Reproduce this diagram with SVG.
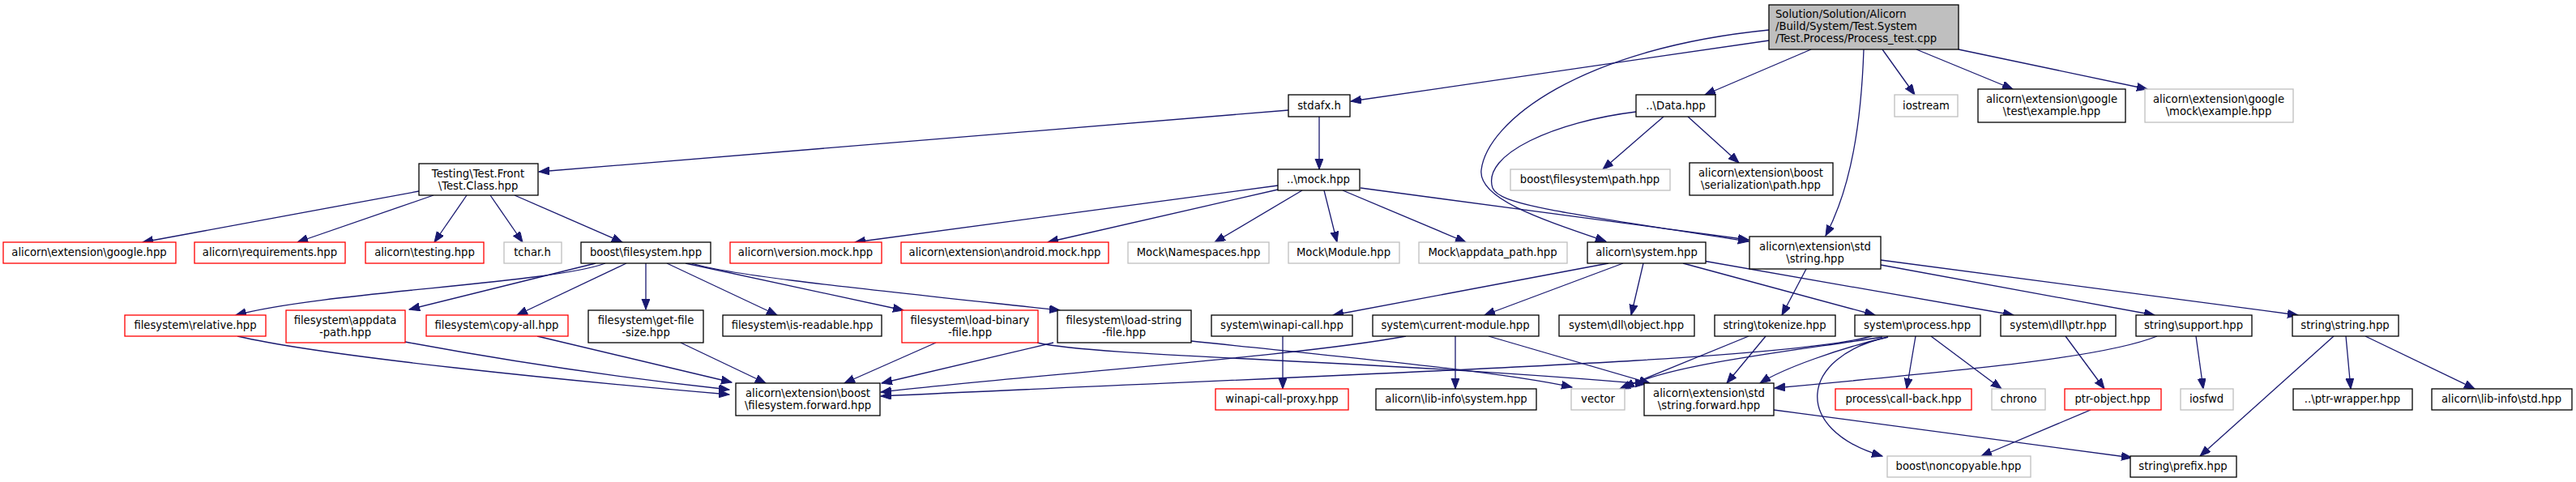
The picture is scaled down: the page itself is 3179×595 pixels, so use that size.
<svg xmlns="http://www.w3.org/2000/svg" width="3179" height="595" viewBox="0 0 3179 595">
<style>
rect{fill:#fff;stroke-width:1.3}
.k rect{stroke:#000}
.g rect{stroke:#bfbfbf}
.r rect{stroke:#ff0000}
.top rect{fill:#bfbfbf;stroke:#000}
text{font-family:"DejaVu Sans","Liberation Sans",sans-serif;font-size:13.2px;fill:#000;text-anchor:middle}
.top text{text-anchor:start}
#edges path{fill:none;stroke:#191970;stroke-width:1.3;marker-end:url(#ah)}
</style>
<defs>
<marker id="ah" markerUnits="userSpaceOnUse" markerWidth="14" markerHeight="11" refX="13" refY="5" orient="auto"><path d="M0,0 L13,5 L0,10 z" fill="#191970" stroke="#191970" stroke-width="1"/></marker>
</defs>
<rect x="0" y="0" width="3179" height="595" style="fill:#fff;stroke:none"/>
<g id="edges">
<path d="M2183,50 L1667,125"/>
<path d="M2183,37 C1950,60 1835,150 1828,210 C1824,245 1900,270 1982,298"/>
<path d="M2235,61 L2104,117"/>
<path d="M2300,61 C2297,150 2285,230 2253,291"/>
<path d="M2323,61 L2363,117"/>
<path d="M2365,61 L2484,110"/>
<path d="M2417,61 L2650,110"/>
<path d="M1590,136 L665,212"/>
<path d="M1628,144 L1628,209"/>
<path d="M2053,144 L1978,209"/>
<path d="M2083,144 L2146,201"/>
<path d="M2019,138 C1920,150 1828,190 1842,232 C1850,252 1920,262 2158,298"/>
<path d="M1679,232 L2158,296"/>
<path d="M517,236 L176,299"/>
<path d="M535,241 L367,299"/>
<path d="M576,241 L536,299"/>
<path d="M605,241 L645,299"/>
<path d="M635,241 L768,299"/>
<path d="M747,325 C680,350 400,360 291,389"/>
<path d="M735,325 L505,382"/>
<path d="M773,325 L638,389"/>
<path d="M797,325 L797,382"/>
<path d="M823,325 L959,389"/>
<path d="M846,325 L1115,383"/>
<path d="M854,325 C900,340 1050,355 1308,383"/>
<path d="M1577,229 L1055,299"/>
<path d="M1577,234 L1293,299"/>
<path d="M1607,235 L1499,299"/>
<path d="M1634,235 L1650,299"/>
<path d="M1657,235 L1809,299"/>
<path d="M293,415 C400,440 700,470 900,487"/>
<path d="M500,422 C650,450 800,470 900,481"/>
<path d="M663,415 L903,472"/>
<path d="M840,423 L945,473"/>
<path d="M1155,423 L1042,473"/>
<path d="M1300,423 L1088,473"/>
<path d="M1735,415 C1600,440 1300,460 1087,484"/>
<path d="M2310,415 C2200,445 1700,460 1087,489"/>
<path d="M1280,423 C1350,440 1700,445 2031,474"/>
<path d="M1470,421 C1650,440 1850,458 1940,478"/>
<path d="M1583,415 L1583,480"/>
<path d="M1796,415 L1796,480"/>
<path d="M1837,415 L2036,473"/>
<path d="M1985,325 L1645,389"/>
<path d="M2003,325 L1832,389"/>
<path d="M2028,325 L2013,389"/>
<path d="M2077,325 L2314,389"/>
<path d="M2102,322 L2485,389"/>
<path d="M2229,332 L2199,389"/>
<path d="M2321,327 L2659,389"/>
<path d="M2321,321 L2836,389"/>
<path d="M2158,415 L1999,480"/>
<path d="M2179,415 L2131,473"/>
<path d="M2323,416 C2200,435 2060,450 2004,479"/>
<path d="M2330,416 C2270,430 2200,455 2172,473"/>
<path d="M2662,415 C2600,440 2450,455 2190,479"/>
<path d="M2364,415 L2353,480"/>
<path d="M2383,415 L2470,480"/>
<path d="M2330,416 C2220,440 2210,530 2323,563"/>
<path d="M2189,506 L2631,565"/>
<path d="M2549,415 L2597,480"/>
<path d="M2580,506 L2445,563"/>
<path d="M2710,415 L2719,480"/>
<path d="M2880,415 L2715,563"/>
<path d="M2895,415 L2901,480"/>
<path d="M2919,415 L3054,480"/>
</g>
<g id="n_top" class="top"><rect x="2183" y="6" width="234" height="55"/><text x="2191" y="22">Solution/Solution/Alicorn</text><text x="2191" y="37">/Build/System/Test.System</text><text x="2191" y="52">/Test.Process/Process_test.cpp</text></g>
<g id="n_stdafx" class="k"><rect x="1590" y="117" width="76" height="27"/><text x="1628" y="135">stdafx.h</text></g>
<g id="n_data" class="k"><rect x="2019" y="117" width="98" height="27"/><text x="2068" y="135">..\Data.hpp</text></g>
<g id="n_iostream" class="g"><rect x="2338" y="117" width="78" height="27"/><text x="2377" y="135">iostream</text></g>
<g id="n_gtest" class="k"><rect x="2441" y="110" width="182" height="41"/><text x="2532" y="127">alicorn\extension\google</text><text x="2532" y="142">\test\example.hpp</text></g>
<g id="n_gmock" class="g"><rect x="2647" y="110" width="183" height="41"/><text x="2738" y="127">alicorn\extension\google</text><text x="2738" y="142">\mock\example.hpp</text></g>
<g id="n_testing" class="k"><rect x="517" y="202" width="147" height="39"/><text x="590" y="219">Testing\Test.Front</text><text x="590" y="234">\Test.Class.hpp</text></g>
<g id="n_mock" class="k"><rect x="1577" y="209" width="101" height="26"/><text x="1627" y="226">..\mock.hpp</text></g>
<g id="n_bfpath" class="g"><rect x="1864" y="209" width="197" height="26"/><text x="1962" y="226">boost\filesystem\path.hpp</text></g>
<g id="n_serial" class="k"><rect x="2085" y="201" width="177" height="40"/><text x="2173" y="218">alicorn\extension\boost</text><text x="2173" y="233">\serialization\path.hpp</text></g>
<g id="n_google" class="r"><rect x="4" y="299" width="213" height="26"/><text x="110" y="316">alicorn\extension\google.hpp</text></g>
<g id="n_req" class="r"><rect x="240" y="299" width="186" height="26"/><text x="333" y="316">alicorn\requirements.hpp</text></g>
<g id="n_atesting" class="r"><rect x="451" y="299" width="146" height="26"/><text x="524" y="316">alicorn\testing.hpp</text></g>
<g id="n_tchar" class="g"><rect x="622" y="299" width="71" height="26"/><text x="657" y="316">tchar.h</text></g>
<g id="n_bfs" class="k"><rect x="717" y="299" width="160" height="26"/><text x="797" y="316">boost\filesystem.hpp</text></g>
<g id="n_vmock" class="r"><rect x="901" y="299" width="187" height="26"/><text x="994" y="316">alicorn\version.mock.hpp</text></g>
<g id="n_amock" class="r"><rect x="1112" y="299" width="256" height="26"/><text x="1240" y="316">alicorn\extension\android.mock.hpp</text></g>
<g id="n_ns" class="g"><rect x="1392" y="299" width="174" height="26"/><text x="1479" y="316">Mock\Namespaces.hpp</text></g>
<g id="n_module" class="g"><rect x="1590" y="299" width="137" height="26"/><text x="1658" y="316">Mock\Module.hpp</text></g>
<g id="n_appdata" class="g"><rect x="1751" y="299" width="183" height="26"/><text x="1842" y="316">Mock\appdata_path.hpp</text></g>
<g id="n_system" class="k"><rect x="1959" y="299" width="146" height="26"/><text x="2032" y="316">alicorn\system.hpp</text></g>
<g id="n_string" class="k"><rect x="2159" y="292" width="162" height="40"/><text x="2240" y="309">alicorn\extension\std</text><text x="2240" y="324">\string.hpp</text></g>
<g id="n_relative" class="r"><rect x="154" y="389" width="174" height="26"/><text x="241" y="406">filesystem\relative.hpp</text></g>
<g id="n_appdatap" class="r"><rect x="353" y="383" width="147" height="40"/><text x="426" y="400">filesystem\appdata</text><text x="426" y="415">-path.hpp</text></g>
<g id="n_copyall" class="r"><rect x="526" y="389" width="175" height="26"/><text x="613" y="406">filesystem\copy-all.hpp</text></g>
<g id="n_getfile" class="k"><rect x="726" y="383" width="142" height="40"/><text x="797" y="400">filesystem\get-file</text><text x="797" y="415">-size.hpp</text></g>
<g id="n_isread" class="k"><rect x="892" y="389" width="196" height="26"/><text x="990" y="406">filesystem\is-readable.hpp</text></g>
<g id="n_loadbin" class="r"><rect x="1113" y="383" width="168" height="40"/><text x="1197" y="400">filesystem\load-binary</text><text x="1197" y="415">-file.hpp</text></g>
<g id="n_loadstr" class="k"><rect x="1305" y="383" width="165" height="40"/><text x="1387" y="400">filesystem\load-string</text><text x="1387" y="415">-file.hpp</text></g>
<g id="n_winapi" class="k"><rect x="1495" y="389" width="174" height="26"/><text x="1582" y="406">system\winapi-call.hpp</text></g>
<g id="n_curmod" class="k"><rect x="1694" y="389" width="205" height="26"/><text x="1796" y="406">system\current-module.hpp</text></g>
<g id="n_dllobj" class="k"><rect x="1924" y="389" width="167" height="26"/><text x="2007" y="406">system\dll\object.hpp</text></g>
<g id="n_tokenize" class="k"><rect x="2116" y="389" width="149" height="26"/><text x="2190" y="406">string\tokenize.hpp</text></g>
<g id="n_process" class="k"><rect x="2289" y="389" width="155" height="26"/><text x="2366" y="406">system\process.hpp</text></g>
<g id="n_dllptr" class="k"><rect x="2469" y="389" width="142" height="26"/><text x="2540" y="406">system\dll\ptr.hpp</text></g>
<g id="n_support" class="k"><rect x="2636" y="389" width="143" height="26"/><text x="2707" y="406">string\support.hpp</text></g>
<g id="n_sstring" class="k"><rect x="2829" y="389" width="131" height="26"/><text x="2894" y="406">string\string.hpp</text></g>
<g id="n_fsfwd" class="k"><rect x="908" y="473" width="178" height="40"/><text x="997" y="490">alicorn\extension\boost</text><text x="997" y="505">\filesystem.forward.hpp</text></g>
<g id="n_proxy" class="r"><rect x="1500" y="480" width="164" height="26"/><text x="1582" y="497">winapi-call-proxy.hpp</text></g>
<g id="n_libsys" class="k"><rect x="1698" y="480" width="198" height="26"/><text x="1797" y="497">alicorn\lib-info\system.hpp</text></g>
<g id="n_vector" class="g"><rect x="1939" y="480" width="66" height="26"/><text x="1972" y="497">vector</text></g>
<g id="n_strfwd" class="k"><rect x="2029" y="473" width="160" height="40"/><text x="2109" y="490">alicorn\extension\std</text><text x="2109" y="505">\string.forward.hpp</text></g>
<g id="n_callback" class="r"><rect x="2265" y="480" width="168" height="26"/><text x="2349" y="497">process\call-back.hpp</text></g>
<g id="n_chrono" class="g"><rect x="2458" y="480" width="66" height="26"/><text x="2491" y="497">chrono</text></g>
<g id="n_ptrobj" class="r"><rect x="2548" y="480" width="119" height="26"/><text x="2607" y="497">ptr-object.hpp</text></g>
<g id="n_iosfwd" class="g"><rect x="2691" y="480" width="65" height="26"/><text x="2723" y="497">iosfwd</text></g>
<g id="n_ptrwrap" class="k"><rect x="2830" y="480" width="147" height="26"/><text x="2903" y="497">..\ptr-wrapper.hpp</text></g>
<g id="n_libstd" class="k"><rect x="3001" y="480" width="173" height="26"/><text x="3087" y="497">alicorn\lib-info\std.hpp</text></g>
<g id="n_noncopy" class="g"><rect x="2329" y="563" width="177" height="26"/><text x="2417" y="580">boost\noncopyable.hpp</text></g>
<g id="n_prefix" class="k"><rect x="2629" y="563" width="131" height="26"/><text x="2694" y="580">string\prefix.hpp</text></g>
</svg>
